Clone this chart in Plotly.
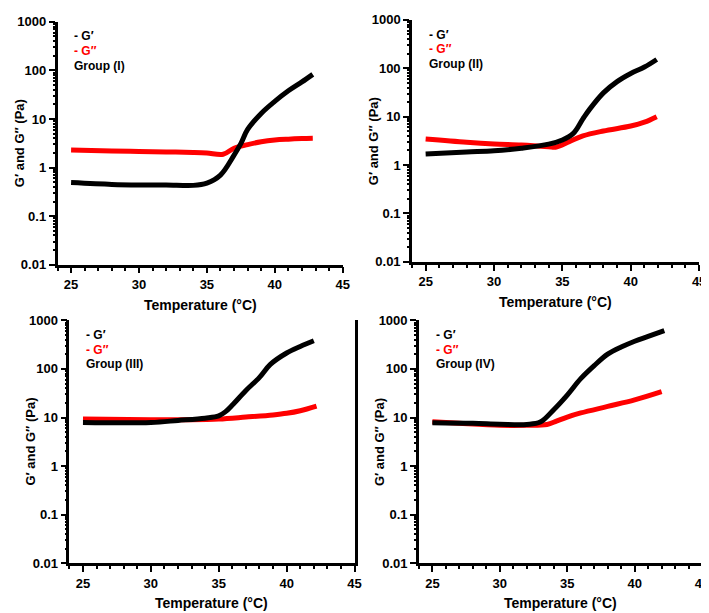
import plotly.graph_objects as go

# temperature (°C) and moduli (Pa)
temp_1 = [25, 28, 30, 32, 34, 35, 36, 37, 37.5, 38, 39, 40, 41, 42, 42.8]
g1_1 = [0.49, 0.45, 0.44, 0.44, 0.43, 0.48, 0.7, 1.8, 3.1, 6.1, 13, 23, 38, 58, 83]
temp_1b = [25, 28, 30, 32, 34, 35, 36.2, 37, 38, 39, 40, 41, 42, 42.8]
g2_1 = [2.3, 2.2, 2.15, 2.1, 2.05, 2.0, 1.88, 2.5, 2.97, 3.4, 3.7, 3.85, 3.95, 4.0]

temp_2 = [25, 28, 30, 32, 34, 35, 35.8, 36.5, 37, 38, 39, 40, 41, 41.9]
g1_2 = [1.69, 1.86, 1.97, 2.23, 2.7, 3.3, 4.5, 9, 14.3, 31, 53, 78, 106, 152]
temp_2b = [25, 28, 30, 32, 34, 34.5, 35.5, 36.5, 38, 40, 41, 41.9]
g2_2 = [3.44, 2.95, 2.73, 2.6, 2.4, 2.34, 3.04, 4.0, 5.05, 6.4, 7.7, 10]

temp_3 = [25, 30, 32, 34, 35, 35.5, 36, 37, 38, 38.8, 40, 41, 42]
g1_3 = [7.9, 7.9, 8.7, 9.7, 10.8, 13.2, 18, 36, 67, 124, 213, 290, 380]
temp_3b = [25, 30, 33, 35, 37, 39, 40, 41, 42.2]
g2_3 = [9.3, 9.0, 9.0, 9.3, 10.2, 11.3, 12.2, 13.8, 17.2]

temp_4 = [25, 28, 30, 32, 33, 34, 35, 36, 37, 38, 39, 40, 41, 42.2]
g1_4 = [7.8, 7.6, 7.3, 7.2, 8.05, 14.5, 29, 63, 117, 201, 282, 372, 468, 617]
temp_4b = [25, 27, 30, 32, 33.5, 34.2, 35, 36, 38, 40, 42]
g2_4 = [8.2, 7.6, 6.9, 6.9, 7.2, 8.4, 10.2, 12.4, 16.9, 23, 34]

groups = ['Group (I)', 'Group (II)', 'Group (III)', 'Group (IV)']
ytick_vals = [0.01, 0.1, 1, 10, 100, 1000]
ytick_text = ['0.01', '0.1', '1', '10', '100', '1000']
# log minor ticks 2..9 in every decade of the y range
minor_y = [m * d for d in ytick_vals[:-1] for m in range(2, 10)]

W, H = 709, 613
FONT = 'Liberation Sans, Arial, sans-serif'

series = [
    (temp_1, g1_1, temp_1b, g2_1),
    (temp_2, g1_2, temp_2b, g2_2),
    (temp_3, g1_3, temp_3b, g2_3),
    (temp_4, g1_4, temp_4b, g2_4),
]
# panel boxes in pixels: left, right, top, bottom
boxes = [(50, 338, 7, 256), (408, 698, 5, 253), (62, 350, 313, 562), (415, 701, 313, 562)]

fig = go.Figure()
annotations = []
axes = {}
for i, ((l, r, t, b), (tx, gp, txb, gpp)) in enumerate(zip(boxes, series)):
    n = '' if i == 0 else str(i + 1)
    m = str(i + 5)
    # G'' on the main axis, G' on the overlay axis (drawn on top, and it carries the minor ticks)
    fig.add_trace(go.Scatter(x=txb, y=gpp, mode='lines', xaxis='x' + n, yaxis='y' + n,
                             line=dict(color='#ff0000', width=5, shape='spline'), showlegend=False))
    fig.add_trace(go.Scatter(x=tx, y=gp, mode='lines', xaxis='x' + n, yaxis='y' + m,
                             line=dict(color='black', width=5, shape='spline'), showlegend=False))

    axes['xaxis' + n] = dict(
        domain=[l / W, r / W], anchor='y' + n, range=[24, 45], tickmode='linear', tick0=0, dtick=5,
        showline=True, linecolor='black', linewidth=2.5, ticks='outside', ticklen=6, tickwidth=2,
        tickcolor='black', showgrid=False, zeroline=False,
        tickfont=dict(family=FONT, size=13, color='black', weight='bold'),
        minor=dict(ticks='outside', ticklen=3.5, tickwidth=2, dtick=1, tick0=0, tickcolor='black', showgrid=False),
    )
    axes['yaxis' + n] = dict(
        domain=[1 - b / H, 1 - t / H], anchor='x' + n, type='log', range=[-2, 3],
        tickvals=ytick_vals, ticktext=ytick_text,
        showline=True, linecolor='black', linewidth=2.5, ticks='outside', ticklen=6, tickwidth=2,
        tickcolor='black', showgrid=False, zeroline=False, mirror=(i >= 2),
        tickfont=dict(family=FONT, size=13, color='black', weight='bold'),
    )
    axes['yaxis' + m] = dict(
        overlaying='y' + n, anchor='x' + n, side='left', type='log', range=[-2, 3],
        tickvals=minor_y, showticklabels=False, ticks='outside', ticklen=3.5, tickwidth=1.5,
        tickcolor='black', showline=False, showgrid=False, zeroline=False,
    )
    # axis titles
    annotations.append(dict(x=(l + r) / 2 / W, y=1 - (b + 41) / H, xref='paper', yref='paper',
                            text='Temperature (°C)', showarrow=False, xanchor='center', yanchor='middle',
                            font=dict(family=FONT, size=14, color='black', weight='bold')))
    annotations.append(dict(x=(l - 39) / W, y=1 - (t + b) / 2 / H, xref='paper', yref='paper',
                            text='G′ and G″ (Pa)', showarrow=False, textangle=-90, xanchor='center', yanchor='middle',
                            font=dict(family=FONT, size=13, color='black', weight='bold')))
    # in-plot key
    lx = l + 15
    for dy, txt, col in [(15, '- G′', 'black'), (30, '- G″', '#ff0000'), (45, groups[i], 'black')]:
        annotations.append(dict(x=lx / W, y=1 - (t + dy) / H, xref='paper', yref='paper', text=txt,
                                showarrow=False, xanchor='left', yanchor='middle',
                                font=dict(family=FONT, size=12, color=col, weight='bold')))

fig.update_layout(
    width=W, height=H, margin=dict(l=0, r=0, t=0, b=0),
    plot_bgcolor='white', paper_bgcolor='white',
    annotations=annotations, showlegend=False,
    **axes,
)

fig.write_html("out.html")
